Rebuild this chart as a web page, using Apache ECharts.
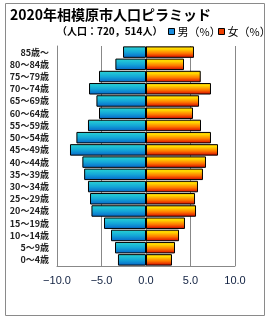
<!DOCTYPE html>
<html><head><meta charset="utf-8">
<script src="https://cdn.jsdelivr.net/npm/echarts@6/dist/echarts.min.js"></script>
<style>html,body{margin:0;padding:0;background:#fff}#c{width:270px;height:320px}</style>
</head><body><div id="c"></div>
<script>
const categories = ['0～4歳','5～9歳','10～14歳','15～19歳','20～24歳','25～29歳','30～34歳','35～39歳','40～44歳','45～49歳','50～54歳','55～59歳','60～64歳','65～69歳','70～74歳','75～79歳','80～84歳','85歳～'];
const male = [3.15,3.48,3.93,4.72,6.13,6.29,6.52,6.95,7.15,8.54,7.82,6.52,5.28,5.57,6.40,5.28,3.44,2.58];
const female = [2.92,3.26,3.71,4.38,5.62,5.51,5.84,6.40,6.74,8.09,7.30,6.18,5.28,5.96,7.30,6.15,4.27,5.39];
const xTicks = [-10,-5,0,5,10];
const titleText = '2020年相模原市人口ピラミッド';
const subText = '（人口：720，514人）';
const seriesNames = ['男（%）','女（%）'];

const JP = '"Noto Sans CJK JP", sans-serif';
const chart = echarts.init(document.getElementById('c'));
const maleGrad = new echarts.graphic.LinearGradient(0,0,0,1,[
  {offset:0,color:'#2ad6d4'},{offset:0.5,color:'#14a8d8'},{offset:1,color:'#0664c8'}]);
const femGrad = new echarts.graphic.LinearGradient(0,0,0,1,[
  {offset:0,color:'#ffb000'},{offset:0.2,color:'#ffe000'},{offset:0.6,color:'#ff7a00'},{offset:1,color:'#d40000'}]);
const legendBase = {top:26,itemWidth:6,itemHeight:6,icon:'rect',padding:0,
  textStyle:{fontFamily:JP,fontSize:11,color:'#000',padding:[0,0,0,-2]}};
chart.setOption({
  animation:false,
  graphic:[{type:'rect',shape:{x:5.5,y:3.5,width:259,height:312},style:{fill:'none',stroke:'#8a8a8a',lineWidth:1},silent:true}],
  title:[
    {text:titleText,left:5,top:3,textStyle:{fontFamily:JP,fontSize:14,fontWeight:'bold',color:'#000'}},
    {text:subText,left:52,top:21,textStyle:{fontFamily:JP,fontSize:10,fontWeight:'bold',color:'#000'}}
  ],
  legend:[
    Object.assign({left:168,data:[{name:seriesNames[0],itemStyle:{color:'#1a8ee0',borderColor:'#000',borderWidth:1}}]},legendBase),
    Object.assign({left:218,data:[{name:seriesNames[1],itemStyle:{color:'#f04000',borderColor:'#000',borderWidth:1}}]},legendBase)
  ],
  grid:{left:57,right:35,top:46,bottom:54,containLabel:false},
  xAxis:{
    type:'value',min:-10,max:10,interval:5,
    axisLine:{show:true,lineStyle:{color:'#888'}},
    axisTick:{show:false},
    splitLine:{show:true,lineStyle:{color:'#888',width:1}},
    axisLabel:{margin:9,fontFamily:'"Liberation Sans", sans-serif',fontSize:11,color:'#102040',
      customValues:xTicks,
      formatter:v=>(v<0?'−':'')+Math.abs(v).toFixed(1)}
  },
  yAxis:{
    type:'category',data:categories,
    axisLine:{show:true,onZero:false,lineStyle:{color:'#888'}},
    axisTick:{show:false},
    axisLabel:{margin:8,fontFamily:JP,fontSize:9,fontWeight:'bold',color:'#222'}
  },
  series:[
    {name:seriesNames[0],type:'bar',stack:'p',barCategoryGap:'6%',
     data:male.map(v=>-v),
     itemStyle:{color:maleGrad,borderColor:'#000',borderWidth:1}},
    {name:seriesNames[1],type:'bar',stack:'p',barCategoryGap:'6%',
     data:female,
     itemStyle:{color:femGrad,borderColor:'#000',borderWidth:1}}
  ]
});
</script></body></html>
